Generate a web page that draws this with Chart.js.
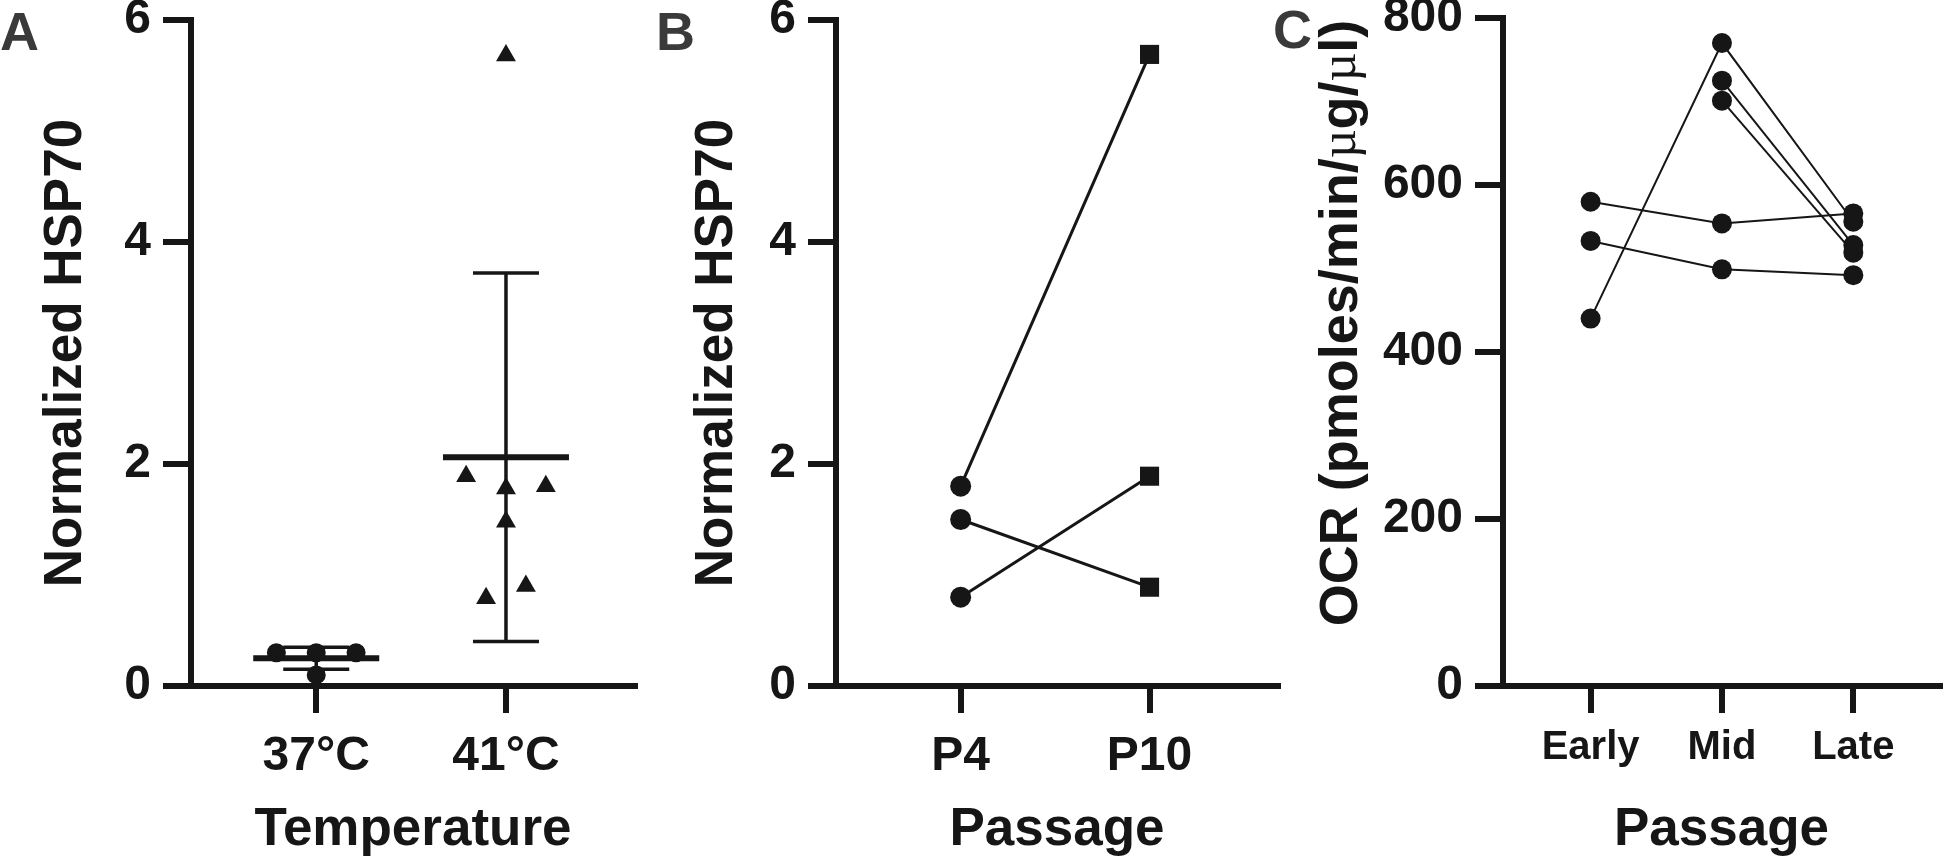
<!DOCTYPE html>
<html>
<head>
<meta charset="utf-8">
<script src="https://cdn.jsdelivr.net/npm/chart.js@4.4.1/dist/chart.umd.min.js"></script>
<style>
body{margin:0;background:#fff;width:1950px;height:864px;overflow:hidden;position:relative}
canvas{position:absolute;top:0}
</style>
</head>
<body>
<canvas id="chartA" width="650" height="864" style="left:0px"></canvas>
<canvas id="chartB" width="650" height="864" style="left:650px"></canvas>
<canvas id="chartC" width="690" height="864" style="left:1260px"></canvas>
<script>
// A: HSP70 by temperature
const tempLabels = ['37°C', '41°C'];
const hsp37 = [0.30, 0.30, 0.30, 0.10];
const hsp41 = [5.68, 1.89, 1.78, 1.80, 1.48, 0.79, 0.90];
const hspMean = [0.25, 2.06];
const hspSD = [0.10, 1.66];
const hspTicks = [0, 2, 4, 6];

// B: paired HSP70, P4 -> P10
const passageLabels = ['P4', 'P10'];
const hspP4 = [1.80, 1.50, 0.80];
const hspP10 = [5.69, 0.89, 1.89];

// C: OCR per line over passage (null = not measured)
const ocrLabels = ['Early', 'Mid', 'Late'];
const ocr1 = [580, 554, 566];
const ocr2 = [533, 499, 492];
const ocr3 = [440, 770, 556];
const ocr4 = [null, 725, 528];
const ocr5 = [null, 701, 519];
const ocrTicks = [0, 200, 400, 600, 800];
const ocrTitle = ['OCR (pmoles/min/', 'µ', 'g/', 'µ', 'l)'];

// dot spread inside a column (in dot steps)
const spread37 = [-1, 0, 1, 0];
const spread41 = [0, -1, 0, 1, 0, -0.5, 0.5];
const STEP = 0.21;

const INK = '#161616';
const FONT = "'Liberation Sans', Arial, Helvetica, sans-serif";
Chart.defaults.font.family = FONT;

// mean line + SD whiskers
const meanSD = {
  id: 'meanSD',
  afterDatasetsDraw(chart, args, o) {
    if (!o.mean) return;
    const {ctx, scales: {x, y}} = chart;
    const seg = (x1, y1, x2, y2) => { ctx.beginPath(); ctx.moveTo(x1, y1); ctx.lineTo(x2, y2); ctx.stroke(); };
    ctx.save();
    ctx.strokeStyle = INK;
    o.mean.forEach((m, i) => {
      const cx = x.getPixelForValue(i);
      const my = y.getPixelForValue(m);
      const hi = y.getPixelForValue(m + o.sd[i]);
      const lo = y.getPixelForValue(m - o.sd[i]);
      ctx.lineWidth = 6;
      seg(cx - 63, my, cx + 63, my);
      ctx.lineWidth = 3.5;
      seg(cx, hi, cx, lo);
      seg(cx - 33, hi, cx + 33, hi);
      seg(cx - 33, lo, cx + 33, lo);
    });
    ctx.restore();
  }
};

// panel letter
const panelTag = {
  id: 'panelTag',
  afterDraw(chart, args, o) {
    const ctx = chart.ctx;
    ctx.save();
    ctx.font = 'bold 54px ' + FONT;
    ctx.fillStyle = '#3a3a3a';
    ctx.textBaseline = 'alphabetic';
    ctx.fillText(o.text, o.x, o.y);
    ctx.restore();
  }
};

// y title with the micro signs set in a thin serif, like the figure
const richYTitle = {
  id: 'richYTitle',
  afterDraw(chart, args, o) {
    if (!o.parts) return;
    const ctx = chart.ctx;
    const fonts = o.parts.map((p, i) => i % 2 ? 'normal 50px "Liberation Serif", serif' : 'bold 54px ' + FONT);
    ctx.save();
    let w = 0;
    o.parts.forEach((p, i) => { ctx.font = fonts[i]; w += ctx.measureText(p).width; });
    const cy = (chart.chartArea.top + chart.chartArea.bottom) / 2 - o.shift;
    ctx.translate(o.x, cy);
    ctx.rotate(-Math.PI / 2);
    ctx.textBaseline = 'middle';
    ctx.fillStyle = INK;
    let cx = -w / 2;
    o.parts.forEach((p, i) => { ctx.font = fonts[i]; ctx.fillText(p, cx, 0); cx += ctx.measureText(p).width; });
    ctx.restore();
  }
};

function axes(c) {
  const bold = size => ({family: FONT, weight: 'bold', size: size});
  return {
    x: {
      type: 'linear', min: c.xmin, max: c.xmax,
      afterBuildTicks: s => { s.ticks = c.labels.map((_, i) => ({value: i})); },
      ticks: {callback: v => c.labels[v], font: bold(c.xTickSize), color: INK, padding: c.xPad, maxRotation: 0, autoSkip: false},
      grid: {drawOnChartArea: false, tickLength: 27, lineWidth: 6, color: INK},
      border: {width: 6, color: INK},
      title: {display: true, text: c.xTitle, font: bold(53), color: INK, padding: {top: 0, bottom: 2}},
      afterFit: s => { s.height = 178; s.paddingLeft = 0; s.paddingRight = 0; }
    },
    y: {
      min: 0, max: c.ticks[c.ticks.length - 1],
      afterBuildTicks: s => { s.ticks = c.ticks.map(v => ({value: v})); },
      ticks: {font: bold(48), color: INK, padding: 12},
      grid: {drawOnChartArea: false, tickLength: 28, lineWidth: 6, color: INK},
      border: {width: 6, color: INK},
      title: {display: !!c.yTitle, text: c.yTitle, font: bold(53), color: INK, padding: {top: c.yTitlePad, bottom: 0}},
      afterFit: s => { s.width = c.yWidth; s.paddingTop = 0; s.paddingBottom = 0; }
    }
  };
}

function baseOptions(c, pad, tag, extra) {
  return {
    responsive: false,
    animation: false,
    layout: {padding: pad},
    plugins: Object.assign({legend: {display: false}, tooltip: {enabled: false}, panelTag: tag}, extra || {}),
    scales: axes(c)
  };
}

// ---- A
new Chart(document.getElementById('chartA'), {
  type: 'scatter',
  data: {datasets: [
    {data: hsp37.map((v, k) => ({x: 0 + spread37[k] * STEP, y: v})), pointStyle: 'circle', pointRadius: 9.5, backgroundColor: INK, borderWidth: 0},
    {data: hsp41.map((v, k) => ({x: 1 + spread41[k] * STEP, y: v})), pointStyle: 'triangle', pointRadius: 11.5, backgroundColor: INK, borderWidth: 0}
  ]},
  options: baseOptions(
    {labels: tempLabels, xmin: -0.66, xmax: 1.68, xTickSize: 48, xPad: 15, xTitle: 'Temperature',
     ticks: hspTicks, yTitle: 'Normalized HSP70', yTitlePad: 35, yWidth: 191},
    {left: 0, right: 15, top: 20, bottom: 0},
    {text: 'A', x: 0, y: 50},
    {meanSD: {mean: hspMean, sd: hspSD}}
  ),
  plugins: [meanSD, panelTag]
});

// ---- B
new Chart(document.getElementById('chartB'), {
  type: 'scatter',
  data: {datasets: hspP4.map((v, k) => ({
    data: [{x: 0, y: v}, {x: 1, y: hspP10[k]}],
    showLine: true, borderColor: INK, borderWidth: 3,
    pointStyle: ['circle', 'rect'], pointRadius: [10.5, 13.5],
    backgroundColor: INK, pointBorderWidth: 0
  }))},
  options: baseOptions(
    {labels: passageLabels, xmin: -0.66, xmax: 1.68, xTickSize: 48, xPad: 15, xTitle: 'Passage',
     ticks: hspTicks, yTitle: 'Normalized HSP70', yTitlePad: 36, yWidth: 186},
    {left: 0, right: 22, top: 20, bottom: 0},
    {text: 'B', x: 6, y: 50}
  ),
  plugins: [panelTag]
});

// ---- C
const ocrSeries = [ocr1, ocr2, ocr3, ocr4, ocr5];
new Chart(document.getElementById('chartC'), {
  type: 'scatter',
  data: {datasets: ocrSeries.map(s => ({
    data: s.map((v, i) => v == null ? null : {x: i, y: v}).filter(p => p),
    showLine: true, borderColor: INK, borderWidth: 2,
    pointStyle: 'circle', pointRadius: 10, backgroundColor: INK, pointBorderWidth: 0
  }))},
  options: baseOptions(
    {labels: ocrLabels, xmin: -0.667, xmax: 2.66, xTickSize: 40, xPad: 11, xTitle: 'Passage',
     ticks: ocrTicks, yTitle: '', yTitlePad: 0, yWidth: 243},
    {left: 0, right: 3, top: 18, bottom: 0},
    {text: 'C', x: 13, y: 48},
    {richYTitle: {parts: ocrTitle, x: 82, shift: 29}}
  ),
  plugins: [panelTag, richYTitle]
});
</script>
</body>
</html>
